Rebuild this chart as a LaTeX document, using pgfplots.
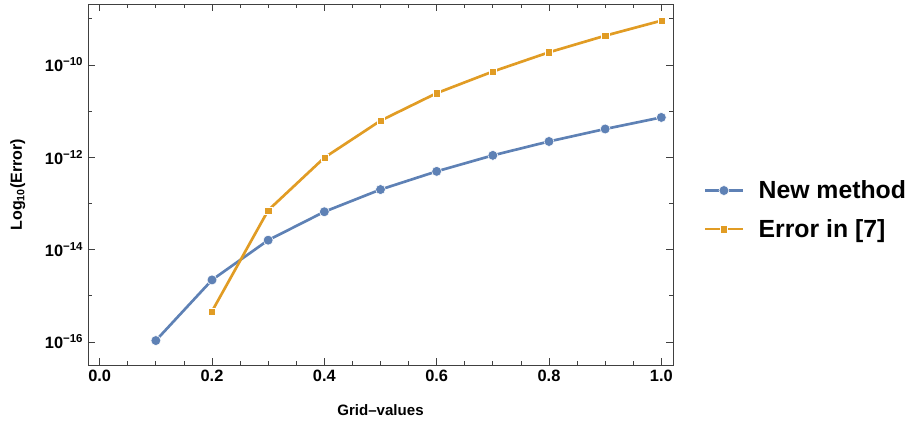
\documentclass[border=0pt]{standalone}
\usepackage{fontspec}
\setmainfont{Liberation Sans}
\usepackage{pgfplots}
\pgfplotsset{compat=1.18}
\definecolor{mblue}{rgb}{0.368417,0.506779,0.709798}
\definecolor{morange}{rgb}{0.880722,0.611041,0.142051}
\begin{document}
\begin{tikzpicture}
\begin{axis}[
  name=ax, at={(0,0)}, anchor=south west,
  scale only axis, width=438.75pt, height=270.75pt,
  xmin=-0.0208, xmax=1.0208,
  ymode=log, ymin=3.16e-17, ymax=2.09e-9,
  axis line style={black!75, line width=0.6pt},
  every tick/.style={black!75, line width=0.6pt},
  major tick length=5pt, minor tick length=3pt,
  tick align=inside,
  xtick={0,0.2,0.4,0.6,0.8,1.0},
  xticklabels={0.0,0.2,0.4,0.6,0.8,1.0},
  minor x tick num=3,
  ytick={1e-16,1e-14,1e-12,1e-10},
  yticklabels={10\textsuperscript{−16},10\textsuperscript{−14},10\textsuperscript{−12},10\textsuperscript{−10}},
  minor ytick={1e-15,1e-13,1e-11,1e-9},
  ticklabel style={font=\bfseries\fontsize{12.3}{14}\selectfont},
  /pgf/number format/assume math mode=true,
  xlabel={Grid–values},
  ylabel={Log\textsubscript{10}(Error)},
  every axis x label/.style={at={(rel axis cs:0.5,-0.1247)}, anchor=center, font=\bfseries\fontsize{11.3}{13}\selectfont},
  every axis y label/.style={at={(rel axis cs:-0.12,0.5)}, rotate=90, anchor=center, font=\bfseries\fontsize{12}{14}\selectfont},
  legend style={at={(1,0.5)}, anchor=west, xshift=20pt, yshift=-19pt,
    draw=none, fill=none, font=\bfseries\fontsize{18.6}{21}\selectfont,
    row sep=10pt},
  legend cell align=left,
  legend image code/.code={\draw[#1,mark repeat=2,mark phase=2] plot coordinates {(0pt,0pt)(14pt,0pt)(28pt,0pt)}; \path (37pt,0pt);},
]
\addplot[mblue, line width=2pt, mark=*, mark size=3.7pt, mark options={fill=mblue, draw=white, line width=0.4pt}]
coordinates {
(0.1,1.07e-16)
(0.2,2.2e-15)
(0.3,1.6e-14)
(0.4,6.6e-14)
(0.5,2.0e-13)
(0.6,4.95e-13)
(0.7,1.1e-12)
(0.8,2.2e-12)
(0.9,4.1e-12)
(1.0,7.3e-12)
};
\addlegendentry{New method}
\addplot[morange, line width=2pt, mark=square*, mark size=2.7pt, mark options={fill=morange, draw=white, line width=0.3pt}]
coordinates {
(0.2,4.6e-16)
(0.3,7.1e-14)
(0.4,9.8e-13)
(0.5,6.2e-12)
(0.6,2.45e-11)
(0.7,7.2e-11)
(0.8,1.88e-10)
(0.9,4.3e-10)
(1.0,9.1e-10)
};
\addlegendentry{Error in [7]}
\end{axis}
\pgfresetboundingbox
\path (-66pt,-45pt) rectangle (616.5pt,273.75pt);
\end{tikzpicture}
\end{document}
